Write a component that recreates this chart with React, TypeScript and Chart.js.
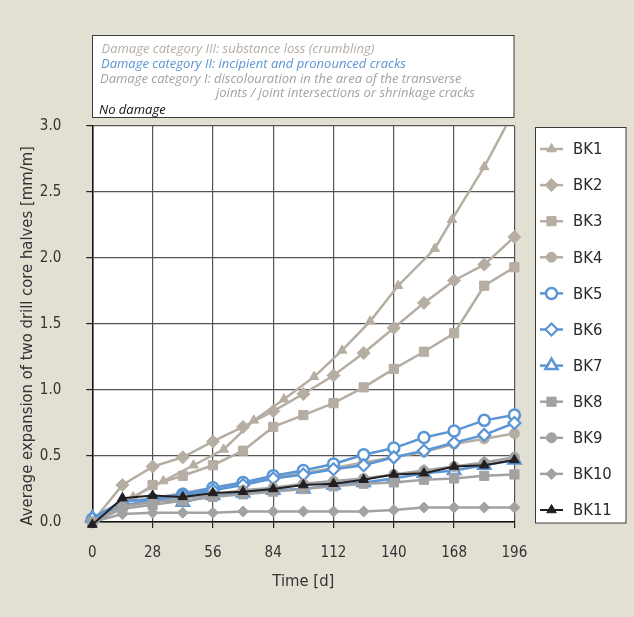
import React, { useEffect, useRef } from 'react';
import { Chart, registerables } from 'chart.js';
import { drawPoint } from 'chart.js/helpers';

Chart.register(...registerables);

// ---- data ----
const days = [0, 14, 28, 42, 56, 70, 84, 98, 112, 126, 140, 154, 168, 182, 196];
const bk1Days = [0, 19, 33, 47, 61, 75, 89, 103, 116, 129, 142, 159, 167, 182, 196];
const bk1 = [0.0, 0.19, 0.31, 0.43, 0.55, 0.77, 0.93, 1.1, 1.3, 1.52, 1.79, 2.07, 2.29, 2.69, 3.12];
const bk2 = [0.0, 0.28, 0.42, 0.49, 0.61, 0.72, 0.84, 0.97, 1.11, 1.28, 1.47, 1.66, 1.83, 1.95, 2.16];
const bk3 = [0.0, 0.13, 0.28, 0.35, 0.43, 0.54, 0.72, 0.81, 0.9, 1.02, 1.16, 1.29, 1.43, 1.79, 1.93];
const bk4 = [0.0, 0.15, 0.18, 0.22, 0.26, 0.3, 0.34, 0.37, 0.41, 0.45, 0.49, 0.53, 0.59, 0.63, 0.67];
const bk5 = [0.02, 0.12, 0.17, 0.21, 0.26, 0.3, 0.35, 0.39, 0.44, 0.51, 0.56, 0.64, 0.69, 0.77, 0.81];
const bk6 = [0.01, 0.12, 0.16, 0.2, 0.24, 0.28, 0.33, 0.36, 0.4, 0.43, 0.49, 0.54, 0.6, 0.66, 0.75];
const bk7 = [0.03, 0.16, 0.17, 0.15, 0.2, 0.22, 0.24, 0.25, 0.28, 0.3, 0.33, 0.37, 0.39, 0.43, 0.47];
const bk8 = [0.0, 0.1, 0.13, 0.16, 0.19, 0.21, 0.23, 0.25, 0.27, 0.29, 0.3, 0.32, 0.33, 0.35, 0.36];
const bk9 = [0.0, 0.12, 0.15, 0.18, 0.21, 0.24, 0.26, 0.29, 0.31, 0.33, 0.36, 0.39, 0.42, 0.45, 0.49];
const bk10 = [0.0, 0.06, 0.07, 0.07, 0.07, 0.08, 0.08, 0.08, 0.08, 0.08, 0.09, 0.11, 0.11, 0.11, 0.11];
const bk11 = [-0.02, 0.18, 0.2, 0.19, 0.22, 0.23, 0.25, 0.28, 0.29, 0.32, 0.36, 0.37, 0.42, 0.43, 0.47];

const xTicks = [0, 28, 56, 84, 112, 140, 168, 196];
const yTicks = [0, 0.5, 1.0, 1.5, 2.0, 2.5, 3.0];

const headerLines = [
  'Damage category III: substance loss (crumbling)',
  'Damage category II: incipient and pronounced cracks',
  'Damage category I: discolouration in the area of the transverse',
  'joints / joint intersections or shrinkage cracks',
  'No damage',
];

// ---- styles ----
const TAN = '#b6ada3';
const BLUE = '#5b95d4';
const GRAY = '#a2a2a2';
const BLACK = '#231f20';
const BG = '#e2dfd3';
const NARROW = "'DejaVu Sans Condensed', Roboto, sans-serif";

const pts = (xs: number[], ys: number[]) => xs.map((x, i) => ({ x, y: ys[i] }));

type Spec = { label: string; xs: number[]; ys: number[]; color: string; style: string; radius: number; open?: boolean; lw: number; bw?: number };
const specs: Spec[] = [
  { label: 'BK1', xs: bk1Days, ys: bk1, color: TAN, style: 'triangle', radius: 5.5, lw: 2.5 },
  { label: 'BK2', xs: days, ys: bk2, color: TAN, style: 'rectRot', radius: 6.5, lw: 2.5 },
  { label: 'BK3', xs: days, ys: bk3, color: TAN, style: 'rect', radius: 6.5, lw: 2.5 },
  { label: 'BK4', xs: days, ys: bk4, color: TAN, style: 'circle', radius: 5, lw: 2.5 },
  { label: 'BK5', xs: days, ys: bk5, color: BLUE, style: 'circle', radius: 5.5, open: true, lw: 2.5, bw: 2.5 },
  { label: 'BK6', xs: days, ys: bk6, color: BLUE, style: 'rectRot', radius: 6, open: true, lw: 2.5, bw: 2.2 },
  { label: 'BK7', xs: days, ys: bk7, color: BLUE, style: 'triangle', radius: 7, open: true, lw: 2.5, bw: 2.5 },
  { label: 'BK8', xs: days, ys: bk8, color: GRAY, style: 'rect', radius: 6.5, lw: 2.5 },
  { label: 'BK9', xs: days, ys: bk9, color: GRAY, style: 'circle', radius: 5, lw: 2.5 },
  { label: 'BK10', xs: days, ys: bk10, color: GRAY, style: 'rectRot', radius: 5.5, lw: 2.5 },
  { label: 'BK11', xs: days, ys: bk11, color: BLACK, style: 'triangle', radius: 5.5, lw: 2 },
];

const bgPlugin = {
  id: 'bgPlugin',
  beforeDraw(chart: any) {
    const { ctx, chartArea: a } = chart;
    ctx.save();
    ctx.fillStyle = BG;
    ctx.fillRect(0, 0, chart.width, chart.height);
    ctx.fillStyle = '#ffffff';
    ctx.fillRect(a.left, a.top, a.right - a.left, a.bottom - a.top);
    ctx.restore();
  },
};

const boxesPlugin = {
  id: 'boxesPlugin',
  afterDraw(chart: any) {
    const { ctx } = chart;
    ctx.save();
    // header box
    ctx.fillStyle = '#ffffff';
    ctx.strokeStyle = '#3a3a3a';
    ctx.lineWidth = 1;
    ctx.fillRect(92.5, 35.5, 421.5, 82);
    ctx.strokeRect(92.5, 35.5, 421.5, 82);
    ctx.font = "italic 13px 'Open Sans', sans-serif";
    ctx.textBaseline = 'middle';
    ctx.textAlign = 'left';
    const hc = [TAN, BLUE, GRAY, GRAY, '#111111'];
    const hx = [101.5, 101, 100, 216, 99];
    const hy = [49, 64, 79, 93, 110];
    headerLines.forEach((t, i) => {
      ctx.fillStyle = hc[i];
      ctx.fillText(t, hx[i], hy[i]);
    });
    // legend box
    ctx.fillStyle = '#ffffff';
    ctx.fillRect(535.5, 127.5, 90.5, 395.5);
    ctx.strokeStyle = '#3a3a3a';
    ctx.strokeRect(535.5, 127.5, 90.5, 395.5);
    chart.data.datasets.forEach((ds: any, i: number) => {
      const y = 149 + i * 36.1;
      ctx.strokeStyle = ds.borderColor;
      ctx.lineWidth = ds.borderWidth;
      ctx.beginPath();
      ctx.moveTo(540, y);
      ctx.lineTo(563, y);
      ctx.stroke();
      ctx.fillStyle = ds.pointBackgroundColor;
      ctx.strokeStyle = ds.pointBorderColor;
      ctx.lineWidth = ds.pointBorderWidth;
      drawPoint(ctx, { pointStyle: ds.pointStyle, radius: ds.pointRadius, borderWidth: ds.pointBorderWidth, rotation: 0 } as any, 551.5, y);
      ctx.fillStyle = '#2a2a2a';
      ctx.font = `16.5px ${NARROW}`;
      ctx.textBaseline = 'middle';
      ctx.fillText(ds.label, 573, y + 1);
    });
    ctx.restore();
  },
};

export default function App() {
  const ref = useRef<HTMLCanvasElement | null>(null);
  useEffect(() => {
    document.body.style.margin = '0';
    const datasets = specs.map((s, i) => ({
      label: s.label,
      data: pts(s.xs, s.ys),
      borderColor: s.color,
      backgroundColor: s.color,
      borderWidth: s.lw,
      pointStyle: s.style,
      pointRadius: s.radius,
      pointBackgroundColor: s.open ? '#ffffff' : s.color,
      pointBorderColor: s.color,
      pointBorderWidth: s.bw ?? 1,
      tension: 0,
      order: 10 - i,
      clip: s.label === 'BK1' ? { left: 10, top: 0, right: 10, bottom: 10 } : 12,
    }));
    const tickFont = { family: NARROW, size: 15 };
    const titleFont = { family: NARROW, size: 16.5 };
    const chart = new Chart(ref.current as HTMLCanvasElement, {
      type: 'line',
      data: { datasets } as any,
      options: {
        responsive: false,
        animation: false,
        devicePixelRatio: 1,
        layout: { padding: { left: 0, top: 126, right: 119.6, bottom: 0 } },
        plugins: { legend: { display: false }, tooltip: { enabled: false } },
        scales: {
          x: {
            type: 'linear',
            min: 0,
            max: 196,
            afterBuildTicks: (s: any) => { s.ticks = xTicks.map((v) => ({ value: v })); },
            afterFit: (s: any) => { s.height = 95; },
            ticks: { font: tickFont, color: '#333333', padding: 16, maxRotation: 0 },
            grid: { color: '#555555', lineWidth: 1.2, tickLength: 6, tickColor: '#222222' },
            border: { color: '#111111', width: 1.5 },
            title: { display: true, text: 'Time [d]', font: titleFont, color: '#333333', padding: { top: 0, bottom: 25 } },
          },
          y: {
            type: 'linear',
            min: 0,
            max: 3,
            afterBuildTicks: (s: any) => { s.ticks = yTicks.map((v) => ({ value: v })); },
            afterFit: (s: any) => { s.width = 92.3; },
            ticks: { font: tickFont, color: '#333333', padding: 25, callback: (v: any) => Number(v).toFixed(1) },
            grid: { color: '#555555', lineWidth: 1.2, tickLength: 6, tickColor: '#222222' },
            border: { color: '#111111', width: 1.5 },
            title: { display: true, text: 'Average expansion of two drill core halves [mm/m]     ', font: titleFont, color: '#333333', padding: { top: 18, bottom: 0 } },
          },
        },
      } as any,
      plugins: [bgPlugin, boxesPlugin],
    });
    return () => chart.destroy();
  }, []);
  return <canvas ref={ref} width={634} height={617} style={{ display: 'block', width: 634, height: 617 }} />;
}
